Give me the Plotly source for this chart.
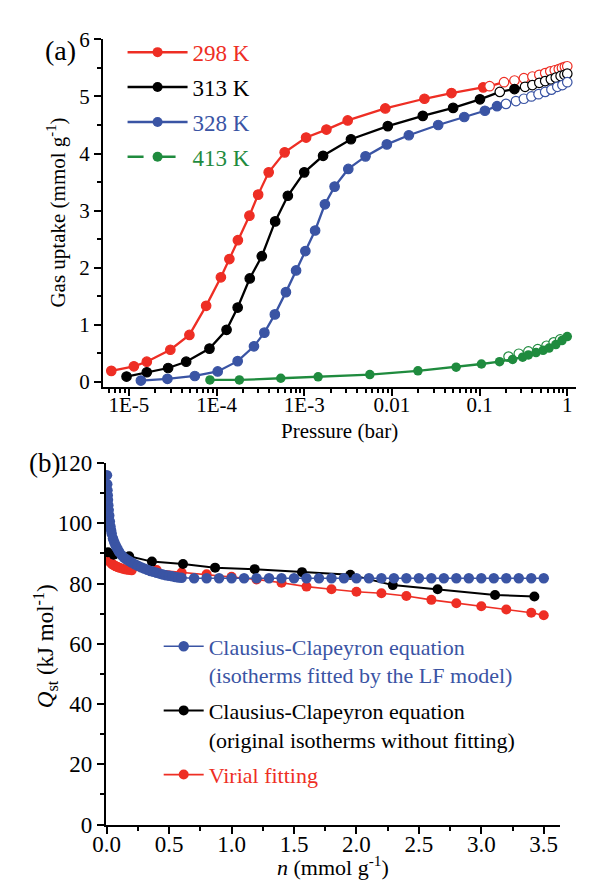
import plotly.graph_objects as go

# ---------------- Panel (a) data: isotherms ----------------
p298 = [6.3e-6, 1.14e-5, 1.6e-5, 2.97e-5, 4.9e-5, 7.6e-5, 1.12e-4, 1.40e-4, 1.75e-4, 2.37e-4,
        2.98e-4, 3.93e-4, 5.98e-4, 1.05e-3, 1.79e-3, 3.13e-3, 8.4e-3, 0.0235, 0.0478, 0.110,
        0.13, 0.19, 0.25, 0.32, 0.40, 0.48, 0.56, 0.64, 0.72, 0.80, 0.87, 0.94, 1.0]
q298 = [0.19, 0.27, 0.35, 0.56, 0.82, 1.33, 1.83, 2.15, 2.48, 2.91,
        3.28, 3.67, 4.02, 4.28, 4.42, 4.58, 4.79, 4.96, 5.06, 5.16,
        5.18, 5.25, 5.28, 5.32, 5.35, 5.38, 5.41, 5.44, 5.46, 5.48, 5.50, 5.52, 5.53]
open298 = [0] * 20 + [1] * 13

p313 = [9.4e-6, 1.6e-5, 2.8e-5, 4.5e-5, 8.3e-5, 1.3e-4, 1.74e-4, 2.39e-4, 3.28e-4, 4.66e-4,
        6.5e-4, 1.0e-3, 1.64e-3, 3.41e-3, 8.97e-3, 0.0225, 0.0499, 0.101,
        0.17, 0.25, 0.33, 0.40, 0.48, 0.56, 0.65, 0.74, 0.84, 0.93, 1.0]
q313 = [0.09, 0.165, 0.24, 0.35, 0.58, 0.91, 1.30, 1.81, 2.20, 2.81,
        3.26, 3.67, 3.96, 4.25, 4.48, 4.66, 4.80, 4.95,
        5.08, 5.13, 5.17, 5.20, 5.24, 5.27, 5.30, 5.33, 5.36, 5.38, 5.40]
open313 = [0] * 18 + [1, 0, 1, 1, 1, 1, 1, 1, 1, 1, 1]

p328 = [1.37e-5, 2.75e-5, 5.65e-5, 1.03e-4, 1.74e-4, 2.67e-4, 3.51e-4, 4.62e-4, 6.18e-4, 8.07e-4,
        1.03e-3, 1.33e-3, 1.72e-3, 2.22e-3, 3.18e-3, 5.0e-3, 8.75e-3, 0.0156, 0.0337, 0.0668,
        0.115, 0.158, 0.20, 0.26, 0.32, 0.39, 0.47, 0.56, 0.66, 0.77, 0.88, 1.0]
q328 = [0.02, 0.05, 0.10, 0.18, 0.36, 0.62, 0.86, 1.18, 1.57, 1.95,
        2.29, 2.65, 3.11, 3.42, 3.73, 3.95, 4.16, 4.32, 4.50, 4.64,
        4.75, 4.83, 4.87, 4.92, 4.96, 5.00, 5.04, 5.08, 5.12, 5.17, 5.20, 5.25]
open328 = [0] * 22 + [1] * 10

p413 = [8.4e-5, 1.82e-4, 5.4e-4, 1.44e-3, 5.6e-3, 0.0198, 0.054, 0.105, 0.169, 0.238,
        0.31, 0.36, 0.44, 0.53, 0.62, 0.74, 0.87, 1.0]
q413 = [0.03, 0.03, 0.06, 0.085, 0.125, 0.19, 0.255, 0.31, 0.35, 0.39,
        0.43, 0.47, 0.51, 0.55, 0.59, 0.65, 0.72, 0.79]
p413_open = [0.214, 0.28, 0.36, 0.46, 0.58, 0.70, 0.83]
q413_open = [0.44, 0.49, 0.53, 0.57, 0.63, 0.69, 0.74]

x_a_tickvals = [1e-5, 1e-4, 1e-3, 1e-2, 1e-1, 1]
x_a_ticktext = ["1E-5", "1E-4", "1E-3", "0.01", "0.1", "1"]

# ---------------- Panel (b) data: Qst ----------------
n_lf = [0.002, 0.004, 0.006, 0.008, 0.010, 0.013, 0.016, 0.020, 0.025, 0.030,
        0.035, 0.040, 0.050, 0.060, 0.070, 0.080, 0.090, 0.100, 0.120, 0.140,
        0.160, 0.180, 0.200, 0.225, 0.250, 0.275, 0.300, 0.325, 0.350, 0.375,
        0.400, 0.425, 0.450, 0.475, 0.500, 0.525, 0.550, 0.575, 0.600,
        0.7, 0.8, 0.9, 1.0, 1.1, 1.2, 1.3, 1.4, 1.5, 1.6, 1.7, 1.8, 1.9, 2.0,
        2.1, 2.2, 2.3, 2.4, 2.5, 2.6, 2.7, 2.8, 2.9, 3.0, 3.1, 3.2, 3.3, 3.4, 3.5]
q_lf = [116.0, 113.0, 111.0, 109.3, 107.8, 106.0, 104.4, 102.6, 100.6, 99.0,
        97.7, 96.6, 95.0, 93.8, 92.8, 92.0, 91.2, 90.5, 89.4, 88.6,
        88.0, 87.5, 87.0, 86.4, 85.9, 85.4, 85.0, 84.6, 84.2, 83.9,
        83.6, 83.3, 83.0, 82.8, 82.6, 82.4, 82.2, 82.0, 81.9,
        81.8, 81.8, 81.8, 81.8, 81.8, 81.8, 81.8, 81.8, 81.8, 81.8, 81.8, 81.8, 81.8, 81.8,
        81.8, 81.8, 81.8, 81.8, 81.8, 81.8, 81.8, 81.8, 81.8, 81.8, 81.8, 81.8, 81.8, 81.8, 81.8]

n_cc = [0.010, 0.056, 0.180, 0.362, 0.611, 0.868, 1.185, 1.564, 1.951, 2.291, 2.650, 3.110, 3.425]
q_cc = [90.4, 89.6, 89.1, 87.3, 86.5, 85.3, 84.8, 83.8, 82.9, 79.5, 78.1, 76.2, 75.7]

n_vir = [0.005, 0.01, 0.02, 0.03, 0.04, 0.05, 0.06, 0.07, 0.08, 0.09, 0.10, 0.12, 0.14, 0.16,
         0.18, 0.20, 0.4, 0.6, 0.8, 1.0, 1.2, 1.4, 1.6, 1.8, 2.0, 2.2, 2.4, 2.6, 2.8, 3.0,
         3.2, 3.4, 3.5]
q_vir = [88.5, 88.0, 87.4, 87.0, 86.6, 86.3, 86.0, 85.8, 85.6, 85.4, 85.3, 85.0, 84.8, 84.6,
         84.5, 84.4, 84.5, 83.7, 83.1, 82.3, 81.4, 80.3, 79.0, 78.1, 77.3, 76.8, 75.9, 74.6, 73.5,
         72.5, 71.4, 70.3, 69.5]

RED = "#EE2E24"
BLACK = "#000000"
BLUE = "#3A54A4"
GREEN = "#1F8B3E"
FONT = "Liberation Serif"

W, H = 592, 884


def px_x(v):
    return v / W


def px_y(v):
    return 1 - v / H


fig = go.Figure()


def iso_trace(p, q, opens, color, name):
    fills = ["white" if o else color for o in opens]
    return go.Scatter(
        x=p, y=q, mode="lines+markers", xaxis="x", yaxis="y",
        line=dict(color=color, width=2.3),
        marker=dict(size=9.5, color=fills, line=dict(color=color, width=1.2)),
        name=name, showlegend=False,
    )


fig.add_trace(iso_trace(p298, q298, open298, RED, "298 K"))
fig.add_trace(iso_trace(p313, q313, open313, BLACK, "313 K"))
fig.add_trace(iso_trace(p328, q328, open328, BLUE, "328 K"))
fig.add_trace(go.Scatter(
    x=p413_open, y=q413_open, mode="markers", xaxis="x", yaxis="y",
    marker=dict(size=9.5, color="white", line=dict(color=GREEN, width=1.2)),
    showlegend=False))
fig.add_trace(go.Scatter(
    x=p413, y=q413, mode="lines+markers", xaxis="x", yaxis="y",
    line=dict(color=GREEN, width=2.3),
    marker=dict(size=9.5, color=GREEN), showlegend=False))

# legend entries for panel (a)
leg_a = [("298 K", RED, "solid"), ("313 K", BLACK, "solid"),
         ("328 K", BLUE, "solid"), ("413 K", GREEN, "16px,12px,20px")]
for i, (nm, col, dash) in enumerate(leg_a):
    fig.add_trace(go.Scatter(
        x=[None], y=[None], mode="lines+markers", xaxis="x", yaxis="y",
        line=dict(color=col, width=2.5, dash=dash),
        marker=dict(size=10, color=col),
        name=f'<span style="color:{col}">{nm}</span>',
        legend="legend", legendgroup=f"a{i}", legendrank=i + 1))

# ---------------- panel (b) traces ----------------
fig.add_trace(go.Scatter(
    x=n_vir, y=q_vir, mode="lines+markers", xaxis="x2", yaxis="y2",
    line=dict(color=RED, width=1.6),
    marker=dict(size=10, color=RED),
    name=f'<span style="color:{RED}">Virial fitting</span>',
    legend="legend2", legendgroup="b3", legendrank=3))
fig.add_trace(go.Scatter(
    x=n_cc, y=q_cc, mode="lines+markers", xaxis="x2", yaxis="y2",
    line=dict(color=BLACK, width=2),
    marker=dict(size=10, color=BLACK),
    name='Clausius-Clapeyron equation<br>(original isotherms without fitting)',
    legend="legend2", legendgroup="b2", legendrank=2))
fig.add_trace(go.Scatter(
    x=n_lf, y=q_lf, mode="lines+markers", xaxis="x2", yaxis="y2",
    line=dict(color=BLUE, width=1.5),
    marker=dict(size=10.5, color=BLUE),
    name=f'<span style="color:{BLUE}">Clausius-Clapeyron equation<br>(isotherms fitted by the LF model)</span>',
    legend="legend2", legendgroup="b1", legendrank=1))


def axis_common(size):
    return dict(
        showline=True, linecolor="black", linewidth=2, ticks="outside", ticklen=7,
        tickwidth=2, tickcolor="black", showgrid=False, zeroline=False,
        tickfont=dict(family=FONT, size=size, color="black"), mirror=False,
    )


minor_log = []
for dec in [1e-6, 1e-5, 1e-4, 1e-3, 1e-2, 1e-1]:
    for k in range(2, 10):
        minor_log.append(k * dec)

XB0, XB1 = 86, 551

fig.update_layout(
    width=W, height=H,
    margin=dict(l=0, r=0, t=0, b=0),
    paper_bgcolor="white", plot_bgcolor="white",
    font=dict(family=FONT, size=21, color="black"),
    xaxis=dict(
        **axis_common(21), type="log", range=[-5.295, 0.095],
        domain=[px_x(83), px_x(567)], anchor="y",
        tickvals=x_a_tickvals, ticktext=x_a_ticktext, ticklabelstandoff=-9,
        minor=dict(tickvals=minor_log, ticks="outside", ticklen=4, tickwidth=1.5, tickcolor="black"),
    ),
    yaxis=dict(
        **axis_common(21), range=[-0.09, 6.0],
        domain=[px_y(377.5), px_y(20)], anchor="x",
        tickvals=[0, 1, 2, 3, 4, 5, 6],
        minor=dict(dtick=0.5, ticks="outside", ticklen=4, tickwidth=1.5, tickcolor="black"),
    ),
    xaxis2=dict(
        **axis_common(23), range=[-0.006, 3.63],
        domain=[px_x(XB0), px_x(XB1)], anchor="y2",
        tickvals=[0, 0.5, 1.0, 1.5, 2.0, 2.5, 3.0, 3.5], tickformat=".1f",
        ticklabelstandoff=-9,
        minor=dict(dtick=0.25, ticks="outside", ticklen=4, tickwidth=1.5, tickcolor="black"),
    ),
    yaxis2=dict(
        **axis_common(23), range=[0, 120],
        domain=[px_y(828), px_y(456)], anchor="x2",
        tickvals=[0, 20, 40, 60, 80, 100, 120],
        minor=dict(dtick=10, ticks="outside", ticklen=4, tickwidth=1.5, tickcolor="black"),
    ),
    legend=dict(
        x=px_x(103), y=px_y(11), xanchor="left", yanchor="top",
        bgcolor="rgba(0,0,0,0)", font=dict(family=FONT, size=23),
        tracegroupgap=2, itemwidth=60, traceorder="grouped",
    ),
    legend2=dict(
        x=px_x(140), y=px_y(623), xanchor="left", yanchor="top",
        bgcolor="rgba(0,0,0,0)", font=dict(family=FONT, size=22),
        tracegroupgap=4, itemwidth=40, traceorder="grouped", valign="top",
    ),
    annotations=[
        dict(text="(a)", x=px_x(22), y=px_y(31), xref="paper", yref="paper",
             xanchor="left", yanchor="middle", showarrow=False,
             font=dict(family=FONT, size=28, color="black")),
        dict(text="(b)", x=px_x(5), y=px_y(456), xref="paper", yref="paper",
             xanchor="left", yanchor="middle", showarrow=False,
             font=dict(family=FONT, size=27, color="black")),
        dict(text="Pressure (bar)", x=px_x(325), y=px_y(423), xref="paper", yref="paper",
             xanchor="center", yanchor="middle", showarrow=False,
             font=dict(family=FONT, size=21, color="black")),
        dict(text="Gas uptake (mmol g<sup>-1</sup>)", x=px_x(35), y=px_y(198),
             xref="paper", yref="paper", xanchor="center", yanchor="middle",
             textangle=-90, showarrow=False,
             font=dict(family=FONT, size=21, color="black")),
        dict(text="<i>n</i> (mmol g<sup>-1</sup>)", x=px_x((XB0 + XB1) / 2), y=px_y(871),
             xref="paper", yref="paper", xanchor="center", yanchor="middle",
             showarrow=False, font=dict(family=FONT, size=22, color="black")),
        dict(text="<i>Q</i><sub>st</sub> (kJ mol<sup>-1</sup>)", x=px_x(24), y=px_y(644),
             xref="paper", yref="paper", xanchor="center", yanchor="middle",
             textangle=-90, showarrow=False,
             font=dict(family=FONT, size=23, color="black")),
    ],
)

fig.write_html("out.html")
